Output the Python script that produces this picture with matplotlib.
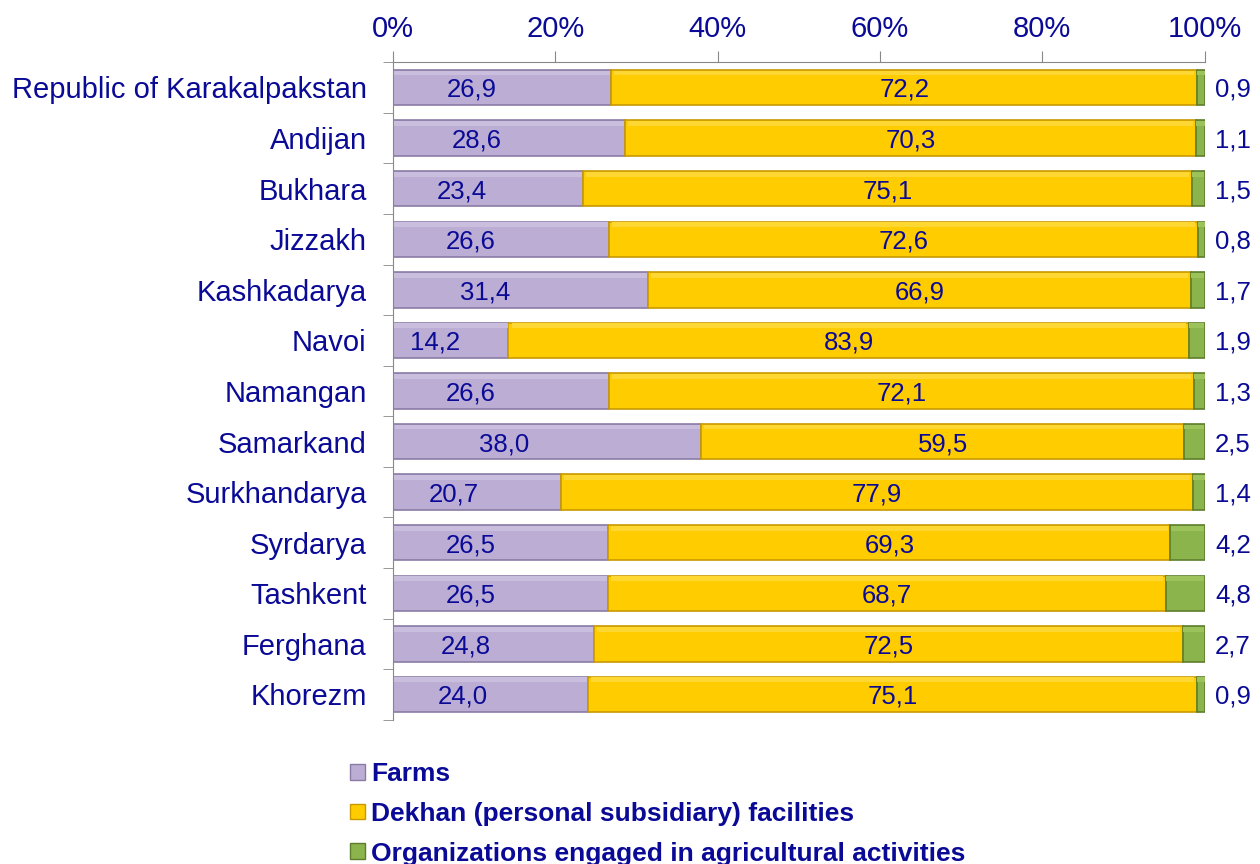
import matplotlib.pyplot as plt
from matplotlib.patches import Patch
import numpy as np

# data
regions = ["Republic of Karakalpakstan", "Andijan", "Bukhara", "Jizzakh", "Kashkadarya",
           "Navoi", "Namangan", "Samarkand", "Surkhandarya", "Syrdarya", "Tashkent",
           "Ferghana", "Khorezm"]
farms = [26.9, 28.6, 23.4, 26.6, 31.4, 14.2, 26.6, 38.0, 20.7, 26.5, 26.5, 24.8, 24.0]
dekhan = [72.2, 70.3, 75.1, 72.6, 66.9, 83.9, 72.1, 59.5, 77.9, 69.3, 68.7, 72.5, 75.1]
orgs = [0.9, 1.1, 1.5, 0.8, 1.7, 1.9, 1.3, 2.5, 1.4, 4.2, 4.8, 2.7, 0.9]
series_names = ["Farms", "Dekhan (personal subsidiary) facilities",
                "Organizations engaged in agricultural activities"]

TXT = "#0A0A96"
FACE = ["#BBADD3", "#FFCC00", "#8CB44C"]
EDGE = ["#8A7BA6", "#C89A00", "#5E7E2C"]
LIGHT = ["#C9BEDE", "#FFD733", "#9CC25C"]

plt.rcParams['font.family'] = ['Liberation Sans', 'DejaVu Sans']

fig = plt.figure(figsize=(12.6, 8.64), dpi=100)
ax = fig.add_axes([0.312, 0.167, 0.644, 0.761])

y = np.arange(len(regions))
f = np.array(farms)
d = np.array(dekhan)
o = np.array(orgs)
tot = f + d + o
fp, dp, op = f / tot * 100, d / tot * 100, o / tot * 100
lefts = [np.zeros(len(y)), fp, fp + dp]
widths = [fp, dp, op]

BH = 0.7
for k in range(3):
    ax.barh(y, widths[k], left=lefts[k], height=BH, color=FACE[k],
            edgecolor=EDGE[k], linewidth=1.2, zorder=2)
    # light top band for a slight bevel look
    ax.barh(y - BH * 0.41, widths[k] * 0.99, left=lefts[k] + widths[k] * 0.005,
            height=BH * 0.14, color=LIGHT[k], linewidth=0, zorder=3)

def fmt(v):
    return f"{v:.1f}".replace(".", ",")

for i in range(len(regions)):
    ax.text(fp[i] * 0.36, y[i], fmt(f[i]), ha='center', va='center_baseline', fontsize=18.5,
            color=TXT, zorder=4)
    ax.text(fp[i] + dp[i] / 2, y[i], fmt(d[i]), ha='center', va='center_baseline',
            fontsize=18.5, color=TXT, zorder=4)
    ax.text(103.5, y[i], fmt(o[i]), ha='center', va='center_baseline', fontsize=18.5,
            color=TXT, clip_on=False)

ax.set_xlim(0, 100)
ax.set_ylim(len(regions) - 0.5, -0.5)
ax.set_xticks(np.arange(0, 101, 20))
ax.set_xticklabels([f"{v}%" for v in range(0, 101, 20)])
ax.xaxis.tick_top()
ax.tick_params(axis='x', colors="#888888", labelcolor=TXT, labelsize=21, length=8, pad=6)
ax.set_yticks(y)
ax.set_yticklabels(regions)
ax.tick_params(axis='y', which='major', length=0, labelsize=21, labelcolor=TXT, pad=19)
ax.set_yticks(np.arange(-0.5, len(regions)), minor=True)
ax.tick_params(axis='y', which='minor', length=7, color="#888888")

for s in ['right', 'bottom']:
    ax.spines[s].set_visible(False)
for s in ['top', 'left']:
    ax.spines[s].set_color("#888888")

handles = [Patch(facecolor=FACE[k], edgecolor=EDGE[k]) for k in range(3)]
fig.legend(handles, series_names, loc='upper left', bbox_to_anchor=(0.278, 0.118),
           frameon=False, prop={'weight': 'bold', 'size': 19}, labelcolor=TXT,
           handlelength=0.55, handleheight=0.55, handletextpad=0.25, labelspacing=0.6,
           borderaxespad=0, borderpad=0)

fig.savefig("out.png", dpi=100)
